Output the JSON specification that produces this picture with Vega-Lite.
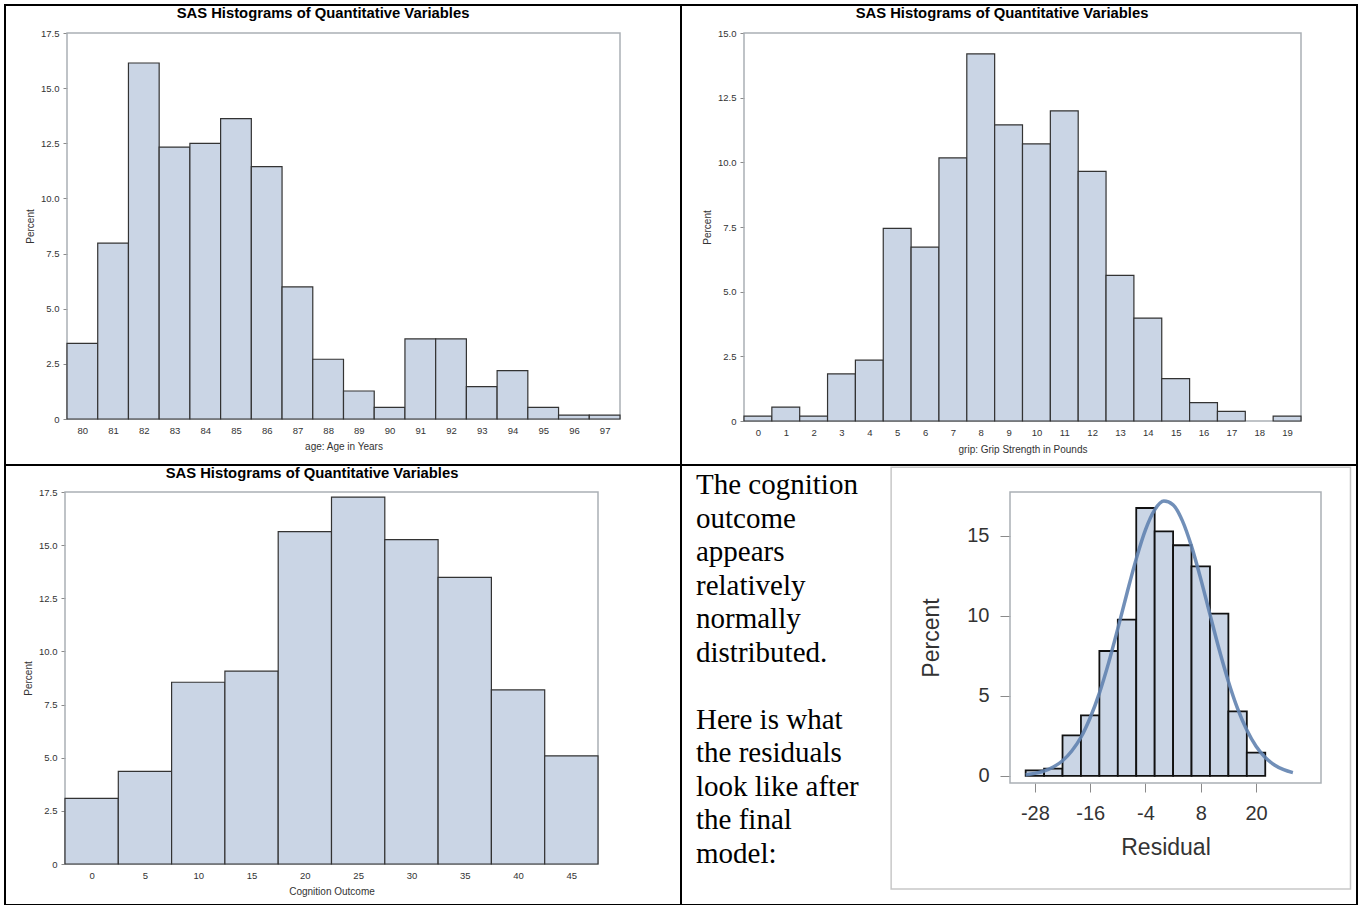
{
  "$schema": "https://vega.github.io/schema/vega-lite/v6.json",
  "background": "white",
  "padding": {"left": 4, "top": 4, "right": 0, "bottom": 0},
  "columns": 2,
  "spacing": 0,
  "bounds": "flush",
  "datasets": {
    "age": [
      {"lo": 79.5, "hi": 80.5, "pct": 3.43},
      {"lo": 80.5, "hi": 81.5, "pct": 7.97},
      {"lo": 81.5, "hi": 82.5, "pct": 16.14},
      {"lo": 82.5, "hi": 83.5, "pct": 12.33},
      {"lo": 83.5, "hi": 84.5, "pct": 12.5},
      {"lo": 84.5, "hi": 85.5, "pct": 13.62},
      {"lo": 85.5, "hi": 86.5, "pct": 11.44},
      {"lo": 86.5, "hi": 87.5, "pct": 5.99},
      {"lo": 87.5, "hi": 88.5, "pct": 2.71},
      {"lo": 88.5, "hi": 89.5, "pct": 1.27},
      {"lo": 89.5, "hi": 90.5, "pct": 0.53},
      {"lo": 90.5, "hi": 91.5, "pct": 3.63},
      {"lo": 91.5, "hi": 92.5, "pct": 3.63},
      {"lo": 92.5, "hi": 93.5, "pct": 1.47},
      {"lo": 93.5, "hi": 94.5, "pct": 2.19},
      {"lo": 94.5, "hi": 95.5, "pct": 0.53},
      {"lo": 95.5, "hi": 96.5, "pct": 0.18},
      {"lo": 96.5, "hi": 97.5, "pct": 0.18}
    ],
    "grip": [
      {"lo": -0.5, "hi": 0.5, "pct": 0.19},
      {"lo": 0.5, "hi": 1.5, "pct": 0.54},
      {"lo": 1.5, "hi": 2.5, "pct": 0.19},
      {"lo": 2.5, "hi": 3.5, "pct": 1.82},
      {"lo": 3.5, "hi": 4.5, "pct": 2.35},
      {"lo": 4.5, "hi": 5.5, "pct": 7.45},
      {"lo": 5.5, "hi": 6.5, "pct": 6.72},
      {"lo": 6.5, "hi": 7.5, "pct": 10.17},
      {"lo": 7.5, "hi": 8.5, "pct": 14.19},
      {"lo": 8.5, "hi": 9.5, "pct": 11.45},
      {"lo": 9.5, "hi": 10.5, "pct": 10.71},
      {"lo": 10.5, "hi": 11.5, "pct": 11.99},
      {"lo": 11.5, "hi": 12.5, "pct": 9.65},
      {"lo": 12.5, "hi": 13.5, "pct": 5.63},
      {"lo": 13.5, "hi": 14.5, "pct": 3.98},
      {"lo": 14.5, "hi": 15.5, "pct": 1.64},
      {"lo": 15.5, "hi": 16.5, "pct": 0.71},
      {"lo": 16.5, "hi": 17.5, "pct": 0.37},
      {"lo": 18.5, "hi": 19.5, "pct": 0.19}
    ],
    "cog": [
      {"lo": -2.5, "hi": 2.5, "pct": 3.09},
      {"lo": 2.5, "hi": 7.5, "pct": 4.36},
      {"lo": 7.5, "hi": 12.5, "pct": 8.55},
      {"lo": 12.5, "hi": 17.5, "pct": 9.07},
      {"lo": 17.5, "hi": 22.5, "pct": 15.64},
      {"lo": 22.5, "hi": 27.5, "pct": 17.26},
      {"lo": 27.5, "hi": 32.5, "pct": 15.26},
      {"lo": 32.5, "hi": 37.5, "pct": 13.48},
      {"lo": 37.5, "hi": 42.5, "pct": 8.19},
      {"lo": 42.5, "hi": 47.5, "pct": 5.09}
    ],
    "resid": [
      {"lo": -30, "hi": -26, "pct": 0.35},
      {"lo": -26, "hi": -22, "pct": 0.46},
      {"lo": -22, "hi": -18, "pct": 2.54},
      {"lo": -18, "hi": -14, "pct": 3.79},
      {"lo": -14, "hi": -10, "pct": 7.81},
      {"lo": -10, "hi": -6, "pct": 9.77},
      {"lo": -6, "hi": -2, "pct": 16.75},
      {"lo": -2, "hi": 2, "pct": 15.29},
      {"lo": 2, "hi": 6, "pct": 14.42},
      {"lo": 6, "hi": 10, "pct": 13.1},
      {"lo": 10, "hi": 14, "pct": 10.15},
      {"lo": 14, "hi": 18, "pct": 4.04},
      {"lo": 18, "hi": 22, "pct": 1.46}
    ],
    "curve": [
      {"r": -30, "d": 0.08}, {"r": -28, "d": 0.16}, {"r": -26, "d": 0.31},
      {"r": -24, "d": 0.56}, {"r": -22, "d": 0.95}, {"r": -20, "d": 1.56},
      {"r": -18, "d": 2.42}, {"r": -16, "d": 3.64}, {"r": -14, "d": 5.18},
      {"r": -12, "d": 7.07}, {"r": -10, "d": 9.21}, {"r": -8, "d": 11.44},
      {"r": -6, "d": 13.57}, {"r": -4, "d": 15.38}, {"r": -2, "d": 16.63},
      {"r": 0, "d": 17.18}, {"r": 2, "d": 16.95}, {"r": 4, "d": 15.96},
      {"r": 6, "d": 14.35}, {"r": 8, "d": 12.32}, {"r": 10, "d": 10.1},
      {"r": 12, "d": 7.9}, {"r": 14, "d": 5.91}, {"r": 16, "d": 4.21},
      {"r": 18, "d": 2.87}, {"r": 20, "d": 1.86}, {"r": 22, "d": 1.16},
      {"r": 24, "d": 0.69}, {"r": 26, "d": 0.39}, {"r": 28, "d": 0.21}
    ]
  },
  "concat": [
    {
      "width": 676,
      "height": 460,
      "title": {"text": "SAS Histograms of Quantitative Variables", "fontSize": 14.8, "fontWeight": "bold", "anchor": "middle", "frame": "group", "baseline": "middle", "offset": -24, "dx": -20},
      "layer": [
        {
          "data": {"values": [{}]},
          "mark": {"type": "rect", "fill": null, "stroke": "#aab0b5", "strokeWidth": 1.5},
          "encoding": {
            "x": {"datum": 79.5, "type": "quantitative", "scale": {"domain": [79.5, 97.5], "range": [62, 615], "nice": false, "zero": false},
              "axis": {"orient": "bottom", "offset": -46, "values": [80,81,82,83,84,85,86,87,88,89,90,91,92,93,94,95,96,97], "ticks": false, "labelFontSize": 9.5, "labelPadding": 6, "title": "age: Age in Years", "titleFontSize": 10, "titlePadding": 7}},
            "x2": {"datum": 97.5},
            "y": {"datum": 0, "type": "quantitative", "scale": {"domain": [0, 17.5], "range": [414, 28], "nice": false},
              "axis": {"orient": "left", "offset": -62, "values": [0,2.5,5,7.5,10,12.5,15,17.5], "labelExpr": "datum.value == 0 ? '0' : format(datum.value, '.1f')", "tickSize": 4, "labelFontSize": 9.5, "labelPadding": 4, "title": "Percent", "titleFontSize": 10, "titlePadding": 5}},
            "y2": {"datum": 17.5}
          }
        },
        {
          "data": {"name": "age"},
          "mark": {"type": "rect", "fill": "#cad5e5", "stroke": "#333333", "strokeWidth": 1.2},
          "encoding": {
            "x": {"field": "lo", "type": "quantitative", "scale": {"domain": [79.5, 97.5], "range": [62, 615], "nice": false, "zero": false},
              "axis": {"orient": "bottom", "offset": -46, "values": [80,81,82,83,84,85,86,87,88,89,90,91,92,93,94,95,96,97], "ticks": false, "labelFontSize": 9.5, "labelPadding": 6, "title": "age: Age in Years", "titleFontSize": 10, "titlePadding": 7}},
            "x2": {"field": "hi"},
            "y": {"field": "pct", "type": "quantitative", "scale": {"domain": [0, 17.5], "range": [414, 28], "nice": false},
              "axis": {"orient": "left", "offset": -62, "values": [0,2.5,5,7.5,10,12.5,15,17.5], "labelExpr": "datum.value == 0 ? '0' : format(datum.value, '.1f')", "tickSize": 4, "labelFontSize": 9.5, "labelPadding": 4, "title": "Percent", "titleFontSize": 10, "titlePadding": 5}},
            "y2": {"datum": 0}
          }
        }
      ]
    },
    {
      "width": 676,
      "height": 460,
      "title": {"text": "SAS Histograms of Quantitative Variables", "fontSize": 14.8, "fontWeight": "bold", "anchor": "middle", "frame": "group", "baseline": "middle", "offset": -24, "dx": -17},
      "layer": [
        {
          "data": {"values": [{}]},
          "mark": {"type": "rect", "fill": null, "stroke": "#aab0b5", "strokeWidth": 1.5},
          "encoding": {
            "x": {"datum": -0.5, "type": "quantitative", "scale": {"domain": [-0.5, 19.5], "range": [63, 620], "nice": false, "zero": false},
              "axis": {"orient": "bottom", "offset": -44, "values": [0,1,2,3,4,5,6,7,8,9,10,11,12,13,14,15,16,17,18,19], "ticks": false, "labelFontSize": 9.5, "labelPadding": 6, "title": "grip: Grip Strength in Pounds", "titleFontSize": 10, "titlePadding": 8}},
            "x2": {"datum": 19.5},
            "y": {"datum": 0, "type": "quantitative", "scale": {"domain": [0, 15], "range": [416, 28], "nice": false},
              "axis": {"orient": "left", "offset": -63, "values": [0,2.5,5,7.5,10,12.5,15], "labelExpr": "datum.value == 0 ? '0' : format(datum.value, '.1f')", "tickSize": 4, "labelFontSize": 9.5, "labelPadding": 4, "title": "Percent", "titleFontSize": 10, "titlePadding": 5}},
            "y2": {"datum": 15}
          }
        },
        {
          "data": {"name": "grip"},
          "mark": {"type": "rect", "fill": "#cad5e5", "stroke": "#333333", "strokeWidth": 1.2},
          "encoding": {
            "x": {"field": "lo", "type": "quantitative", "scale": {"domain": [-0.5, 19.5], "range": [63, 620], "nice": false, "zero": false},
              "axis": {"orient": "bottom", "offset": -44, "values": [0,1,2,3,4,5,6,7,8,9,10,11,12,13,14,15,16,17,18,19], "ticks": false, "labelFontSize": 9.5, "labelPadding": 6, "title": "grip: Grip Strength in Pounds", "titleFontSize": 10, "titlePadding": 8}},
            "x2": {"field": "hi"},
            "y": {"field": "pct", "type": "quantitative", "scale": {"domain": [0, 15], "range": [416, 28], "nice": false},
              "axis": {"orient": "left", "offset": -63, "values": [0,2.5,5,7.5,10,12.5,15], "labelExpr": "datum.value == 0 ? '0' : format(datum.value, '.1f')", "tickSize": 4, "labelFontSize": 9.5, "labelPadding": 4, "title": "Percent", "titleFontSize": 10, "titlePadding": 5}},
            "y2": {"datum": 0}
          }
        }
      ]
    },
    {
      "width": 676,
      "height": 440,
      "title": {"text": "SAS Histograms of Quantitative Variables", "fontSize": 14.8, "fontWeight": "bold", "anchor": "middle", "frame": "group", "baseline": "middle", "offset": -24, "dx": -31},
      "layer": [
        {
          "data": {"values": [{}]},
          "mark": {"type": "rect", "fill": null, "stroke": "#aab0b5", "strokeWidth": 1.5},
          "encoding": {
            "x": {"datum": -2.5, "type": "quantitative", "scale": {"domain": [-2.5, 47.5], "range": [60, 593], "nice": false, "zero": false},
              "axis": {"orient": "bottom", "offset": -41, "values": [0,5,10,15,20,25,30,35,40,45], "ticks": false, "labelFontSize": 9.5, "labelPadding": 6, "title": "Cognition Outcome", "titleFontSize": 10, "titlePadding": 7}},
            "x2": {"datum": 47.5},
            "y": {"datum": 0, "type": "quantitative", "scale": {"domain": [0, 17.5], "range": [399, 27], "nice": false},
              "axis": {"orient": "left", "offset": -60, "values": [0,2.5,5,7.5,10,12.5,15,17.5], "labelExpr": "datum.value == 0 ? '0' : format(datum.value, '.1f')", "tickSize": 4, "labelFontSize": 9.5, "labelPadding": 4, "title": "Percent", "titleFontSize": 10, "titlePadding": 5}},
            "y2": {"datum": 17.5}
          }
        },
        {
          "data": {"name": "cog"},
          "mark": {"type": "rect", "fill": "#cad5e5", "stroke": "#333333", "strokeWidth": 1.2},
          "encoding": {
            "x": {"field": "lo", "type": "quantitative", "scale": {"domain": [-2.5, 47.5], "range": [60, 593], "nice": false, "zero": false},
              "axis": {"orient": "bottom", "offset": -41, "values": [0,5,10,15,20,25,30,35,40,45], "ticks": false, "labelFontSize": 9.5, "labelPadding": 6, "title": "Cognition Outcome", "titleFontSize": 10, "titlePadding": 7}},
            "x2": {"field": "hi"},
            "y": {"field": "pct", "type": "quantitative", "scale": {"domain": [0, 17.5], "range": [399, 27], "nice": false},
              "axis": {"orient": "left", "offset": -60, "values": [0,2.5,5,7.5,10,12.5,15,17.5], "labelExpr": "datum.value == 0 ? '0' : format(datum.value, '.1f')", "tickSize": 4, "labelFontSize": 9.5, "labelPadding": 4, "title": "Percent", "titleFontSize": 10, "titlePadding": 5}},
            "y2": {"datum": 0}
          }
        }
      ]
    },
    {
      "width": 676,
      "height": 440,
      "title": {"text": ["The cognition", "outcome", "appears", "relatively", "normally", "distributed.", "\u2800", "Here is what", "the residuals", "look like after", "the final", "model:"], "font": "Liberation Serif", "fontSize": 29, "fontWeight": "normal", "lineHeight": 33.5, "anchor": "start", "frame": "group", "baseline": "top", "offset": -403.5, "dx": 15},
      "layer": [
        {
          "data": {"values": [{}]},
          "mark": {"type": "rect", "fill": null, "stroke": "#c8c8c8", "strokeWidth": 1.5},
          "encoding": {
            "x": {"datum": -59.2, "type": "quantitative", "scale": {"domain": [-33.4, 34.1], "range": [329, 640], "nice": false, "zero": false},
              "axis": {"orient": "bottom", "offset": -122, "values": [-28,-16,-4,8,20], "labelExpr": "datum.value < 0 ? '-' + abs(datum.value) : '' + datum.value", "tickSize": 9, "labelFontSize": 20, "labelPadding": 11, "title": "Residual", "titleFontSize": 23, "titlePadding": 13}},
            "x2": {"datum": 40.5},
            "y": {"datum": -7.06, "type": "quantitative", "scale": {"domain": [-0.44, 17.75], "range": [318, 27], "nice": false, "zero": false},
              "axis": {"orient": "left", "offset": -329, "values": [0,5,10,15], "tickSize": 10, "labelFontSize": 20, "labelPadding": 11, "title": "Percent", "titleFontSize": 23, "titlePadding": 23}},
            "y2": {"datum": 19.3}
          }
        },
        {
          "data": {"values": [{}]},
          "mark": {"type": "rect", "fill": null, "stroke": "#aab0b5", "strokeWidth": 1.5},
          "encoding": {
            "x": {"datum": -33.4, "type": "quantitative", "scale": {"domain": [-33.4, 34.1], "range": [329, 640], "nice": false, "zero": false},
              "axis": {"orient": "bottom", "offset": -122, "values": [-28,-16,-4,8,20], "labelExpr": "datum.value < 0 ? '-' + abs(datum.value) : '' + datum.value", "tickSize": 9, "labelFontSize": 20, "labelPadding": 11, "title": "Residual", "titleFontSize": 23, "titlePadding": 13}},
            "x2": {"datum": 34.1},
            "y": {"datum": -0.44, "type": "quantitative", "scale": {"domain": [-0.44, 17.75], "range": [318, 27], "nice": false, "zero": false},
              "axis": {"orient": "left", "offset": -329, "values": [0,5,10,15], "tickSize": 10, "labelFontSize": 20, "labelPadding": 11, "title": "Percent", "titleFontSize": 23, "titlePadding": 23}},
            "y2": {"datum": 17.75}
          }
        },
        {
          "data": {"name": "resid"},
          "mark": {"type": "rect", "fill": "#cad5e5", "stroke": "#111111", "strokeWidth": 1.8},
          "encoding": {
            "x": {"field": "lo", "type": "quantitative", "scale": {"domain": [-33.4, 34.1], "range": [329, 640], "nice": false, "zero": false},
              "axis": {"orient": "bottom", "offset": -122, "values": [-28,-16,-4,8,20], "labelExpr": "datum.value < 0 ? '-' + abs(datum.value) : '' + datum.value", "tickSize": 9, "labelFontSize": 20, "labelPadding": 11, "title": "Residual", "titleFontSize": 23, "titlePadding": 13}},
            "x2": {"field": "hi"},
            "y": {"field": "pct", "type": "quantitative", "scale": {"domain": [-0.44, 17.75], "range": [318, 27], "nice": false, "zero": false},
              "axis": {"orient": "left", "offset": -329, "values": [0,5,10,15], "tickSize": 10, "labelFontSize": 20, "labelPadding": 11, "title": "Percent", "titleFontSize": 23, "titlePadding": 23}},
            "y2": {"datum": 0}
          }
        },
        {
          "data": {"name": "curve"},
          "mark": {"type": "line", "stroke": "#6283b0", "strokeWidth": 3.5, "interpolate": "monotone", "opacity": 0.9},
          "encoding": {
            "x": {"field": "r", "type": "quantitative", "scale": {"domain": [-33.4, 34.1], "range": [329, 640], "nice": false, "zero": false},
              "axis": {"orient": "bottom", "offset": -122, "values": [-28,-16,-4,8,20], "labelExpr": "datum.value < 0 ? '-' + abs(datum.value) : '' + datum.value", "tickSize": 9, "labelFontSize": 20, "labelPadding": 11, "title": "Residual", "titleFontSize": 23, "titlePadding": 13}},
            "y": {"field": "d", "type": "quantitative", "scale": {"domain": [-0.44, 17.75], "range": [318, 27], "nice": false, "zero": false},
              "axis": {"orient": "left", "offset": -329, "values": [0,5,10,15], "tickSize": 10, "labelFontSize": 20, "labelPadding": 11, "title": "Percent", "titleFontSize": 23, "titlePadding": 23}}
          }
        }
      ]
    }
  ],
  "config": {
    "view": {"stroke": "black", "strokeWidth": 2},
    "font": "Liberation Sans",
    "title": {"font": "Liberation Sans", "color": "black"},
    "axis": {
      "grid": false,
      "domain": false,
      "labelFont": "Liberation Sans",
      "titleFont": "Liberation Sans",
      "titleFontWeight": "normal",
      "labelColor": "#333333",
      "titleColor": "#333333",
      "tickColor": "#8a8a8a",
      "labelFlush": false,
      "labelOverlap": false
    }
  }
}
